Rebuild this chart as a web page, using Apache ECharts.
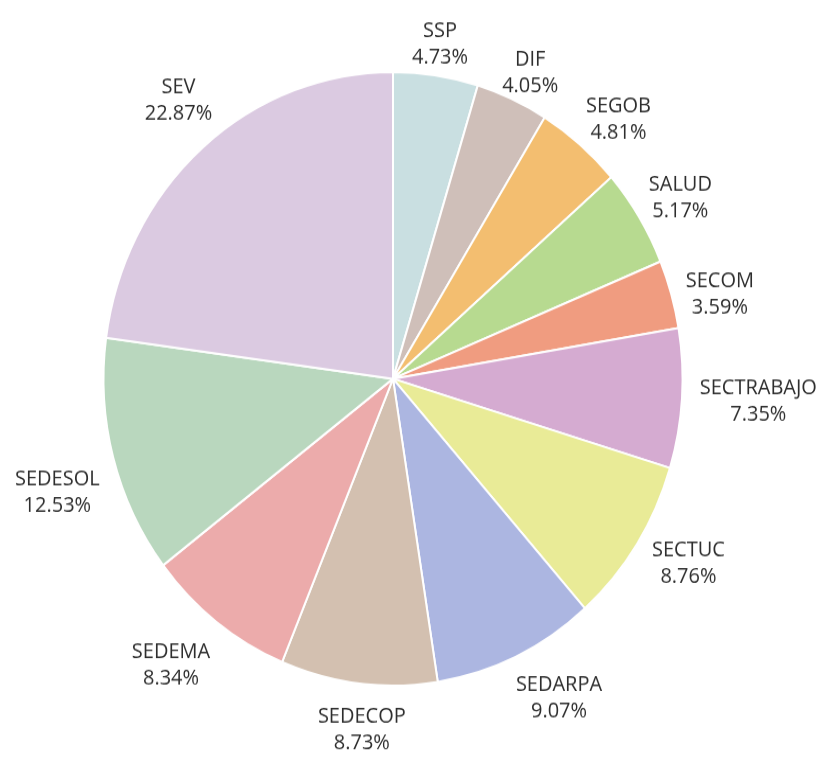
<!DOCTYPE html>
<html>
<head>
<meta charset="utf-8">
<script src="https://cdn.jsdelivr.net/npm/echarts@6/dist/echarts.min.js"></script>
<style>
  html, body { margin: 0; padding: 0; background: #ffffff; width: 821px; height: 763px; overflow: hidden; }
  #chart { width: 821px; height: 720px; transform: scaleY(1.0597); transform-origin: 0 0; }
</style>
</head>
<body>
<div id="chart"></div>
<script>
const categories = ['SSP', 'DIF', 'SEGOB', 'SALUD', 'SECOM', 'SECTRABAJO', 'SECTUC', 'SEDARPA', 'SEDECOP', 'SEDEMA', 'SEDESOL', 'SEV'];
const shares = [4.73, 4.05, 4.81, 5.17, 3.59, 7.35, 8.76, 9.07, 8.73, 8.34, 12.53, 22.87];
const sliceColors = ['#c9dfe1', '#cfbfb9', '#f3be70', '#b7da90', '#f09c80', '#d5abd1', '#e9eb97', '#acb6e1', '#d3c0b0', '#ecabab', '#b9d7be', '#dbcae1'];
// small nudges of each label from its default spot on the label ring
const labelNudgeX = [-3, -2, 7, 0, 2, 28, 11, 22, 9, -16, -9, 8];
const labelNudgeY = [19, 19, 13, 7, 14, 0, -8, -4, -4, 2, 21, -8];

const chart = echarts.init(document.getElementById('chart'), null, { renderer: 'canvas' });
const pieData = categories.map((n, i) => ({ name: n, value: shares[i], itemStyle: { color: sliceColors[i] } }));
const labelData = categories.map((n, i) => ({ name: n, value: shares[i] }));
const center = [393, 357.4];

chart.setOption({
  animation: false,
  backgroundColor: '#ffffff',
  series: [
    {
      type: 'pie',
      center: center,
      radius: 289.5,
      startAngle: 90,
      clockwise: true,
      silent: true,
      label: { show: false },
      labelLine: { show: false },
      itemStyle: { borderColor: '#ffffff', borderWidth: 2 },
      data: pieData
    },
    {
      type: 'pie',
      center: center,
      radius: [310, 360],
      startAngle: 90,
      clockwise: true,
      silent: true,
      itemStyle: { color: 'rgba(0,0,0,0)' },
      label: {
        show: true,
        position: 'inside',
        rotate: 0,
        color: '#2e2e2e',
        fontFamily: '"Open Sans", sans-serif',
        fontSize: 20,
        lineHeight: 25,
        align: 'center',
        formatter: p => p.name + '\n' + p.value.toFixed(2) + '%'
      },
      labelLayout: p => ({ dx: labelNudgeX[p.dataIndex], dy: labelNudgeY[p.dataIndex] }),
      labelLine: { show: false },
      data: labelData
    }
  ]
});
</script>
</body>
</html>
